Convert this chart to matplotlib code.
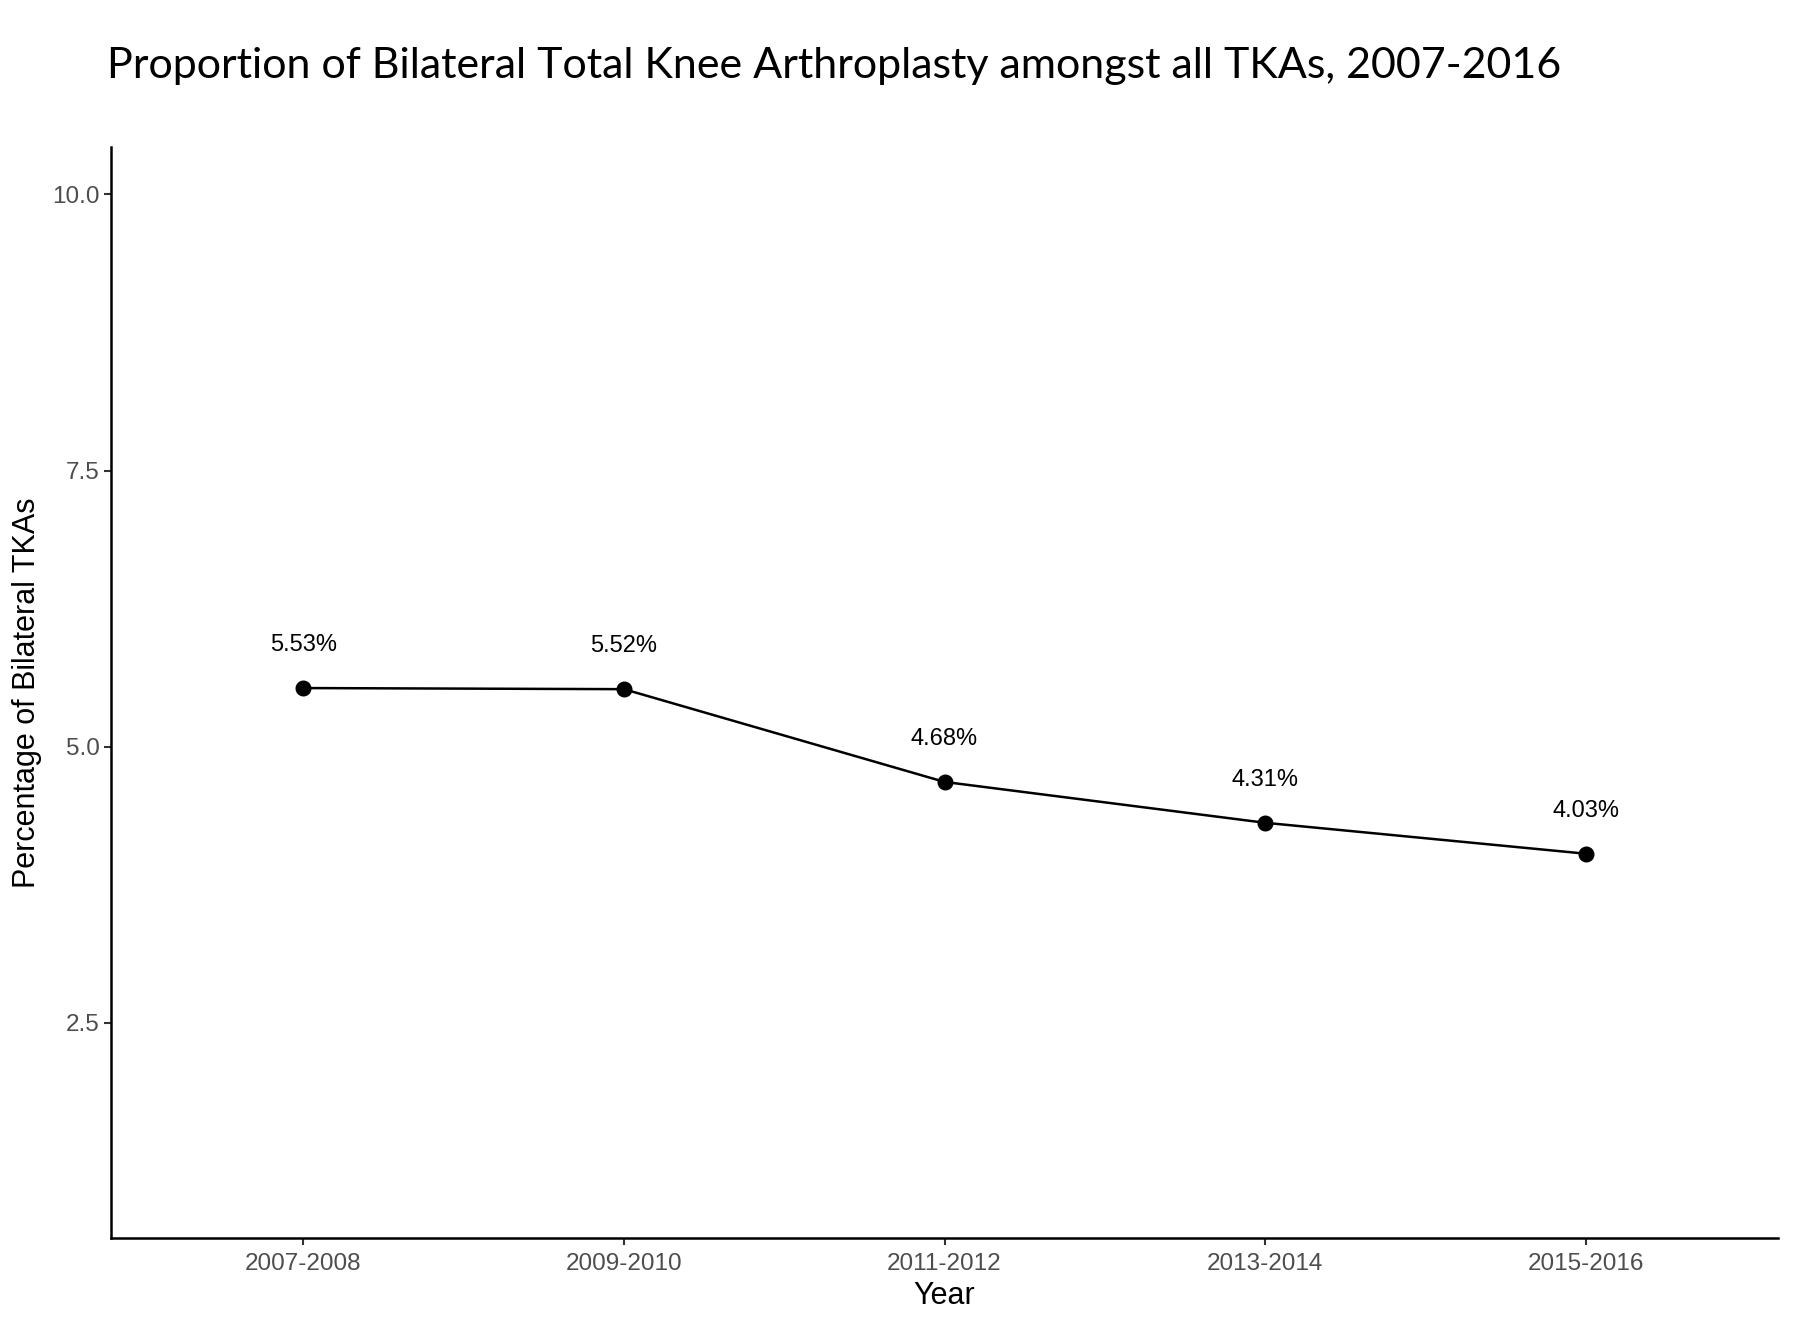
import matplotlib
matplotlib.use("Agg")
import matplotlib.pyplot as plt

# Data
PERIODS = ["2007-2008", "2009-2010", "2011-2012", "2013-2014", "2015-2016"]
PCT_BILATERAL = [5.53, 5.52, 4.68, 4.31, 4.03]
Y_TICKS = [2.5, 5.0, 7.5, 10.0]

TITLE = "Proportion of Bilateral Total Knee Arthroplasty amongst all TKAs, 2007-2016"
LABEL_NUDGE = 0.39  # label offset above points, data units

plt.rcParams["font.family"] = ["Liberation Sans", "DejaVu Sans"]

fig = plt.figure(figsize=(18, 13.18), dpi=100)
ax = fig.add_axes([0.0617, 0.0607, 0.9261, 0.8278])

x = list(range(len(PERIODS)))
ax.plot(x, PCT_BILATERAL, color="black", linewidth=1.8, marker="o",
        markersize=10.5, zorder=3)

for xi, v in zip(x, PCT_BILATERAL):
    ax.text(xi, v + LABEL_NUDGE, f"{v:.2f}%", ha="center", va="center",
            fontsize=17, color="black")

# ggplot-style discrete expansion
ax.set_xlim(-0.6, len(PERIODS) - 1 + 0.6)
ax.set_ylim(0.55, 10.43)
ax.set_xticks(x)
ax.set_xticklabels(PERIODS)
ax.set_yticks(Y_TICKS)
ax.set_yticklabels([f"{t:.1f}" for t in Y_TICKS])

for side in ["top", "right"]:
    ax.spines[side].set_visible(False)
for side in ["left", "bottom"]:
    ax.spines[side].set_linewidth(1.8)

ax.tick_params(axis="both", direction="out", length=5, width=1.5,
               colors="#333333", labelsize=17.5, labelcolor="#4d4d4d")
ax.tick_params(axis="x", pad=5.5)
ax.tick_params(axis="y", pad=3)

ax.set_xlabel("Year", fontsize=22, labelpad=4.5)
ax.set_ylabel("Percentage of Bilateral TKAs", fontsize=22)
ax.yaxis.set_label_coords(27 / 1800, 0.0607 + 0.8278 / 2,
                          transform=fig.transFigure)
ax.yaxis.label.set_va("center")

fig.text(0.0594, 0.950, TITLE, ha="left", va="center", fontsize=31,
         family=["Lato", "DejaVu Sans"], color="black")

fig.savefig("out.png", dpi=100)
plt.close(fig)
